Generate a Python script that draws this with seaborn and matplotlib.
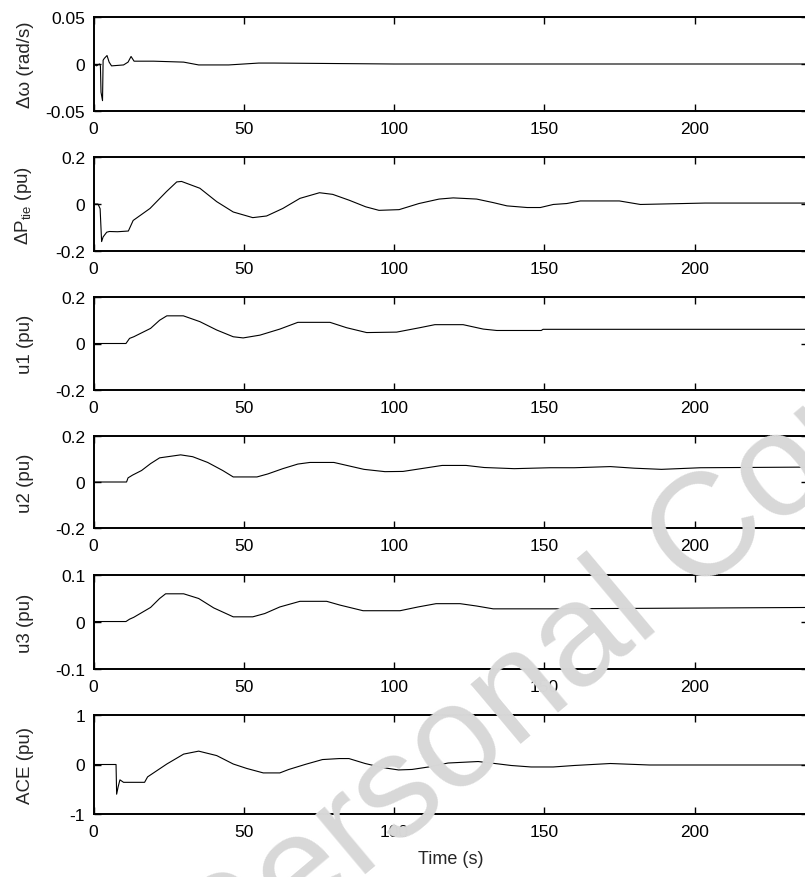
import matplotlib
matplotlib.use('Agg')
import matplotlib.pyplot as plt
import seaborn as sns

# values (time in s)
t_dw = [0, 1, 2, 2.3, 2.5, 3.0, 3.2, 3.6, 4.5, 5.2, 6, 10, 11.5, 12.5, 13.5, 15,
        20, 30, 35, 45, 55, 60, 100, 150, 200, 240]
dw = [0, -0.002, 0, -0.002, -0.030, -0.039, 0.004, 0.006, 0.009, 0.002, -0.002,
      -0.001, 0.002, 0.008, 0.003, 0.003, 0.003, 0.002, -0.001, -0.001, 0.001,
      0.001, 0, 0, 0, 0]

t_ptie = [0, 1.5, 2.2, 2.7, 3.2, 4.4, 5.3, 8, 11.6, 13.2, 18.8, 24.3, 27.7, 29.3,
          35.4, 41, 46.5, 53, 57.6, 63, 68.7, 75.2, 79.6, 85.1, 90.6, 95, 101.7,
          108.3, 115, 119.7, 127.5, 133, 137.6, 144.3, 148.7, 153, 157.5, 162,
          175, 182, 203.5, 240]
ptie = [0, 0, -0.02, -0.16, -0.14, -0.12, -0.117, -0.118, -0.115, -0.07, -0.019,
        0.053, 0.094, 0.096, 0.067, 0.01, -0.034, -0.058, -0.051, -0.019, 0.024,
        0.048, 0.041, 0.016, -0.012, -0.027, -0.024, 0.002, 0.021, 0.026, 0.021,
        0.006, -0.008, -0.015, -0.015, -0.002, 0.002, 0.013, 0.013, -0.002,
        0.004, 0.004]

t_u1 = [0, 10.8, 12, 13.4, 19, 22, 24.4, 29.9, 35.4, 41, 46.5, 49.8, 55.4, 62,
        68, 78.7, 84.2, 90.9, 100.9, 108.6, 113.6, 123, 129.7, 134.2, 149,
        149.6, 240]
u1 = [0, 0, 0.022, 0.029, 0.065, 0.1, 0.119, 0.119, 0.094, 0.058, 0.029, 0.024,
      0.036, 0.062, 0.091, 0.091, 0.068, 0.047, 0.049, 0.068, 0.081, 0.081,
      0.062, 0.056, 0.056, 0.061, 0.061]

t_u2 = [0, 11, 11.5, 13, 16, 19, 22, 29, 33, 38, 43, 46.5, 54.4, 58, 63, 68, 72,
        80, 85, 90, 97, 103, 110, 116, 124, 130, 140, 152, 160, 172, 180, 189,
        202, 240]
u2 = [0, 0, 0.018, 0.03, 0.05, 0.08, 0.105, 0.118, 0.11, 0.085, 0.05, 0.022,
      0.022, 0.035, 0.058, 0.078, 0.085, 0.085, 0.07, 0.055, 0.045, 0.046, 0.06,
      0.072, 0.072, 0.063, 0.058, 0.062, 0.062, 0.067, 0.06, 0.055, 0.062, 0.065]

t_u3 = [0, 10.8, 12, 13.4, 19, 22, 24, 30, 35, 40, 46.5, 53, 57, 62, 68.7, 77.6,
        82, 89.7, 102, 108, 114, 122, 127.5, 133, 152, 240]
u3 = [0.001, 0.001, 0.006, 0.01, 0.031, 0.05, 0.06, 0.06, 0.05, 0.03, 0.011,
      0.011, 0.018, 0.032, 0.044, 0.044, 0.036, 0.024, 0.024, 0.032, 0.039,
      0.039, 0.034, 0.028, 0.028, 0.031]

t_ace = [0, 7.5, 7.7, 8.2, 8.8, 10, 17, 18, 24.4, 30, 35, 41, 46.5, 51, 56.5, 62,
         65, 70.7, 76.2, 81.8, 85, 90.4, 96, 101.5, 106, 111.5, 118, 128, 133.6,
         139, 145.6, 153, 160, 172, 185, 200, 240]
ace = [0, 0, -0.6, -0.45, -0.31, -0.36, -0.36, -0.25, 0.01, 0.21, 0.27, 0.18,
       0.01, -0.08, -0.17, -0.17, -0.1, 0.006, 0.1, 0.12, 0.12, 0.02, -0.06,
       -0.11, -0.1, -0.05, 0.03, 0.06, 0.02, -0.02, -0.05, -0.05, -0.02, 0.02,
       -0.01, -0.01, -0.01]

ylabels = ['\u0394\u03c9 (rad/s)', '\u0394P$_{\\mathrm{tie}}$ (pu)', 'u1 (pu)',
           'u2 (pu)', 'u3 (pu)', 'ACE (pu)']
ylims = [0.05, 0.2, 0.2, 0.2, 0.1, 1]
ytick_labels = [['-0.05', '0', '0.05'], ['-0.2', '0', '0.2'], ['-0.2', '0', '0.2'],
                ['-0.2', '0', '0.2'], ['-0.1', '0', '0.1'], ['-1', '0', '1']]
xticks = [0, 50, 100, 150, 200]

sns.set_style('ticks')
plt.rcParams['font.family'] = ['Liberation Sans', 'DejaVu Sans']
plt.rcParams['mathtext.fontset'] = 'custom'
plt.rcParams['mathtext.rm'] = 'Liberation Sans'
plt.rcParams['axes.unicode_minus'] = False

W, H = 805, 878
fig = plt.figure(figsize=(W / 100, H / 100), dpi=100)

series = [(t_dw, dw), (t_ptie, ptie), (t_u1, u1), (t_u2, u2), (t_u3, u3), (t_ace, ace)]
tops = [18, 158, 298, 437, 576, 716]
bottoms = [112, 252, 391, 529, 670, 815]
left_px, right_px = 93.5, 808

for i, (tx, ty) in enumerate(series):
    ax = fig.add_axes([left_px / W, 1 - bottoms[i] / H,
                       (right_px - left_px) / W, (bottoms[i] - tops[i]) / H])
    sns.lineplot(x=tx, y=ty, ax=ax, color='black', linewidth=0.8, estimator=None)
    ax.set_xlim(0, (right_px - left_px) / 3.005)
    ax.set_ylim(-ylims[i], ylims[i])
    ax.set_xticks(xticks)
    ax.set_yticks([-ylims[i], 0, ylims[i]])
    ax.set_yticklabels(ytick_labels[i])
    ax.tick_params(direction='in', top=True, right=True, length=5, width=1,
                   labelsize=12.5, colors='black')
    ax.tick_params(axis='x', pad=7)
    ax.tick_params(axis='y', pad=6)
    for s in ax.spines.values():
        s.set_linewidth(1.4)
        s.set_color('black')
    ax.set_ylabel(ylabels[i], fontsize=13.5)
    ax.yaxis.set_label_coords((34 - left_px) / (right_px - left_px), 0.5)
    if i == 5:
        ax.set_xlabel('Time (s)', fontsize=13, labelpad=8)

# watermark as it appears in the reference
fig.text(0.70, 0.25, 'Personal Copy', rotation=40, fontsize=105, color='#d8d8d8',
         ha='center', va='center')

fig.savefig('out.png', dpi=100)
